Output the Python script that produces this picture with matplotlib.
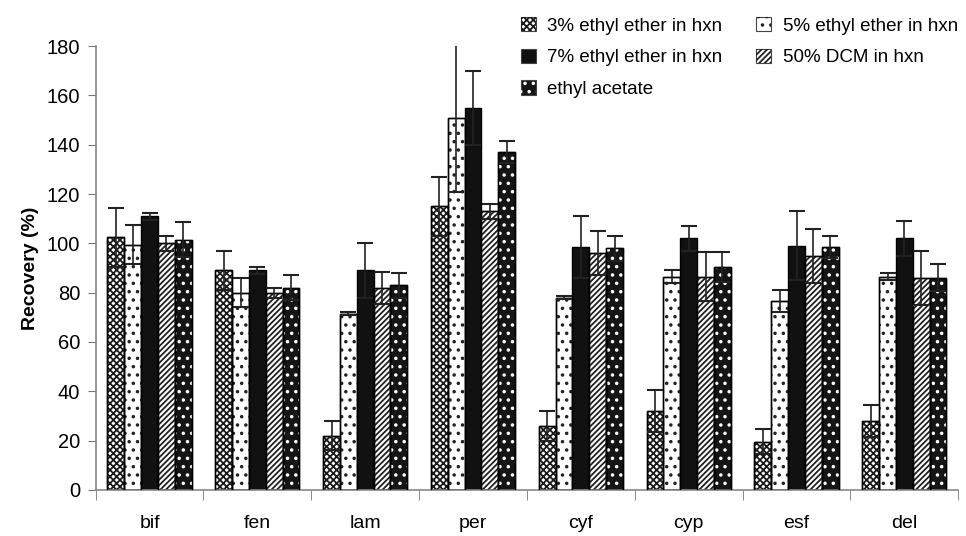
import numpy as np
import matplotlib
matplotlib.use("Agg")
import matplotlib.pyplot as plt
import matplotlib.patches as mpatches
from matplotlib.legend_handler import HandlerTuple

plt.rcParams['font.family'] = ['Liberation Sans', 'DejaVu Sans']
plt.rcParams['hatch.linewidth'] = 1.3

# Dados
categories = ["bif", "fen", "lam", "per", "cyf", "cyp", "esf", "del"]
series_names = ["3% ethyl ether in hxn", "5% ethyl ether in hxn",
                "7% ethyl ether in hxn", "50% DCM in hxn", "ethyl acetate"]

ether3 = [102.5, 89, 22, 115, 26, 32, 19.5, 28]
ether3_err = [12, 8, 6, 12, 6, 8.5, 5, 6.5]
ether5 = [99.5, 80, 71.5, 151, 78, 86.5, 76.5, 86.5]
ether5_err = [8, 6, 0.7, 30, 0.7, 2.5, 4.5, 1.5]
ether7 = [111, 89, 89, 155, 98.5, 102, 99, 102]
ether7_err = [1.5, 1.5, 11, 15, 12.5, 5, 14, 7]
dcm50 = [100, 80, 82, 113, 96, 86.5, 95, 86]
dcm50_err = [3, 2, 6.5, 3, 9, 10, 11, 11]
acetate = [101.5, 82, 83, 137, 98, 90.5, 98.5, 86]
acetate_err = [7, 5, 5, 4.5, 5, 6, 4.5, 5.5]

values = [ether3, ether5, ether7, dcm50, acetate]
errors = [ether3_err, ether5_err, ether7_err, dcm50_err, acetate_err]


def main():
    fig = plt.figure(figsize=(9.66, 5.36), dpi=100)
    ax = fig.add_axes([0.099, 0.086, 0.893, 0.828])

    x = np.arange(len(categories))
    width = 0.156
    offsets = (np.arange(5) - 2) * width

    # Estilos: (facecolor, hatch, hatchcolor)
    styles = [
        ("white", "xxxxx", "#1a1a1a"),
        ("white", "..", "#222222"),
        ("#111111", None, None),
        ("white", "//////", "#222222"),
        ("#151515", "..", "white"),
    ]

    handles = []
    for i, (vals, errs) in enumerate(zip(values, errors)):
        face, hatch, hcolor = styles[i]
        pos = x + offsets[i]
        ax.bar(pos, vals, width, color=face, edgecolor="black",
               linewidth=1.0, zorder=2)
        if hatch:
            ax.bar(pos, vals, width, color="none", edgecolor=hcolor,
                   hatch=hatch, linewidth=0, zorder=2.5)
            ax.bar(pos, vals, width, color="none", edgecolor="black",
                   linewidth=1.0, zorder=2.6)
        ax.errorbar(pos, vals, yerr=errs, fmt="none", ecolor="#222222",
                    elinewidth=1.2, capsize=6, capthick=1.5, zorder=3)

        base = mpatches.Patch(facecolor=face, edgecolor="#444444",
                              linewidth=0.8)
        if hatch:
            over = mpatches.Patch(facecolor="none", edgecolor=hcolor,
                                  hatch=hatch, linewidth=0)
            handles.append((base, over))
        else:
            handles.append(base)

    ax.set_xlim(-0.5, len(categories) - 0.5)
    ax.set_ylim(0, 180)
    ax.set_yticks(np.arange(0, 181, 20))
    ax.set_xticks(x)
    ax.set_xticklabels(categories)
    ax.set_xticks(np.arange(len(categories) + 1) - 0.5, minor=True)
    ax.tick_params(axis="x", which="major", length=0, pad=18, labelsize=14)
    ax.tick_params(axis="x", which="minor", length=7, color="#777777",
                   direction="out")
    ax.tick_params(axis="y", length=6, color="#777777", labelsize=14.5,
                   pad=5)
    ax.set_ylabel("Recovery (%)", fontsize=14, fontweight="bold",
                  labelpad=6)

    for side in ["top", "right"]:
        ax.spines[side].set_visible(False)
    for side in ["left", "bottom"]:
        ax.spines[side].set_color("#888888")
        ax.spines[side].set_linewidth(1.2)

    order = [0, 2, 4, 1, 3]
    fig.legend([handles[k] for k in order], [series_names[k] for k in order],
               handler_map={tuple: HandlerTuple(ndivide=1, pad=0)},
               ncol=2, frameon=False, loc="upper left",
               bbox_to_anchor=(0.522, 1.0), fontsize=13.5,
               handlelength=0.8, handleheight=0.8, handletextpad=0.6,
               columnspacing=1.8, labelspacing=0.75)

    fig.savefig("out.png", dpi=100)


if __name__ == "__main__":
    main()
